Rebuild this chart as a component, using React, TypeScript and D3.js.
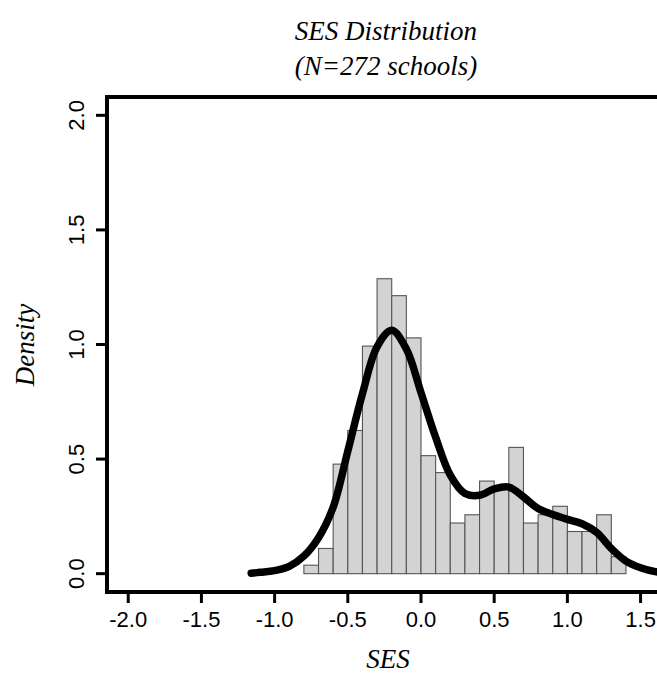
import { useEffect, useRef } from "react";
import * as d3 from "d3";

// histogram: lower edge of each 0.1-wide bin and its density
const binStarts = [
  -0.8, -0.7, -0.6, -0.5, -0.4, -0.3, -0.2, -0.1, 0.0, 0.1, 0.2, 0.3, 0.4, 0.5,
  0.6, 0.7, 0.8, 0.9, 1.0, 1.1, 1.2, 1.3,
];
const binDensity = [
  0.037, 0.11, 0.478, 0.625, 0.993, 1.287, 1.213, 1.029, 0.515, 0.441, 0.221,
  0.257, 0.404, 0.368, 0.551, 0.221, 0.257, 0.294, 0.184, 0.184, 0.257, 0.074,
];
const binWidth = 0.1;

// kernel density curve
const kdeX = [
  -1.16, -1.1, -1.0, -0.9, -0.8, -0.7, -0.6, -0.5, -0.4, -0.3, -0.2, -0.1, 0.0,
  0.1, 0.2, 0.3, 0.4, 0.5, 0.6, 0.7, 0.8, 0.9, 1.0, 1.1, 1.2, 1.3, 1.4, 1.5, 1.6,
  1.7, 1.79,
];
const kdeY = [
  0.002, 0.006, 0.013, 0.032, 0.077, 0.157, 0.29, 0.535, 0.785, 0.99, 1.062,
  0.98, 0.79, 0.595, 0.43, 0.35, 0.342, 0.37, 0.378, 0.335, 0.284, 0.258, 0.237,
  0.218, 0.18, 0.11, 0.055, 0.026, 0.009, 0.003, 0.001,
];

const xTicks = [-2.0, -1.5, -1.0, -0.5, 0.0, 0.5, 1.0, 1.5];
const yTicks = [0.0, 0.5, 1.0, 1.5, 2.0];

const titleLines = ["SES Distribution", "(N=272 schools)"];
const xLabel = "SES";
const yLabel = "Density";

export default function App() {
  const svgRef = useRef<SVGSVGElement>(null);

  useEffect(() => {
    if (!svgRef.current) return;
    const svg = d3.select(svgRef.current);
    svg.selectAll("*").remove();

    const width = 657;
    const height = 677;
    const serif = "'Liberation Serif', 'DejaVu Serif', serif";
    const sans = "'Liberation Sans', Arial, sans-serif";

    svg.attr("width", width).attr("height", height);

    // plot region (R-style 4% padding around the limits)
    const x = d3.scaleLinear().domain([-2.145, 2.145]).range([107, 735]);
    const y = d3.scaleLinear().domain([-0.08, 2.08]).range([592, 97]);

    const g = svg.append("g");

    g.selectAll("rect.bar")
      .data(binStarts.map((s, i) => ({ s, d: binDensity[i] })))
      .join("rect")
      .attr("class", "bar")
      .attr("x", (d) => x(d.s))
      .attr("width", x(binWidth) - x(0))
      .attr("y", (d) => y(d.d))
      .attr("height", (d) => y(0) - y(d.d))
      .attr("fill", "#d3d3d3")
      .attr("stroke", "#555")
      .attr("stroke-width", 1.1);

    const line = d3
      .line<number>()
      .x((d) => x(d))
      .y((_, i) => y(kdeY[i]))
      .curve(d3.curveCatmullRom.alpha(0.5));

    g.append("path")
      .datum(kdeX)
      .attr("d", line)
      .attr("fill", "none")
      .attr("stroke", "#000")
      .attr("stroke-width", 7.5)
      .attr("stroke-linecap", "round")
      .attr("stroke-linejoin", "round");

    // box
    const [x0, x1] = x.range();
    const [y0, y1] = y.range();
    g.append("rect")
      .attr("x", x0)
      .attr("y", y1)
      .attr("width", x1 - x0)
      .attr("height", y0 - y1)
      .attr("fill", "none")
      .attr("stroke", "#000")
      .attr("stroke-width", 4);

    // x axis
    const xa = g.append("g");
    xa.selectAll("line")
      .data(xTicks)
      .join("line")
      .attr("x1", (d) => x(d))
      .attr("x2", (d) => x(d))
      .attr("y1", y0)
      .attr("y2", y0 + 11)
      .attr("stroke", "#000")
      .attr("stroke-width", 3);
    xa.selectAll("text")
      .data(xTicks)
      .join("text")
      .attr("x", (d) => x(d))
      .attr("y", 619)
      .attr("dy", "0.35em")
      .attr("text-anchor", "middle")
      .attr("font-family", sans)
      .attr("font-size", 22)
      .text((d) => d3.format(".1f")(d).replace("−", "-"));

    // y axis
    const ya = g.append("g");
    ya.selectAll("line")
      .data(yTicks)
      .join("line")
      .attr("x1", x0 - 11)
      .attr("x2", x0)
      .attr("y1", (d) => y(d))
      .attr("y2", (d) => y(d))
      .attr("stroke", "#000")
      .attr("stroke-width", 3);
    ya.selectAll("text")
      .data(yTicks)
      .join("text")
      .attr("transform", (d) => `translate(76,${y(d)}) rotate(-90)`)
      .attr("dy", "0.35em")
      .attr("text-anchor", "middle")
      .attr("font-family", sans)
      .attr("font-size", 22)
      .text((d) => d3.format(".1f")(d));

    // titles
    svg
      .selectAll("text.title")
      .data(titleLines)
      .join("text")
      .attr("class", "title")
      .attr("x", 386)
      .attr("y", (_, i) => 40 + i * 35)
      .attr("text-anchor", "middle")
      .attr("font-family", serif)
      .attr("font-style", "italic")
      .attr("font-size", 27)
      .text((d) => d);

    svg
      .append("text")
      .attr("x", 388)
      .attr("y", 668)
      .attr("text-anchor", "middle")
      .attr("font-family", serif)
      .attr("font-style", "italic")
      .attr("font-size", 27)
      .text(xLabel);

    svg
      .append("text")
      .attr("transform", `translate(25,345) rotate(-90)`)
      .attr("dy", "0.35em")
      .attr("text-anchor", "middle")
      .attr("font-family", serif)
      .attr("font-style", "italic")
      .attr("font-size", 27)
      .text(yLabel);
  }, []);

  return (
    <svg
      ref={svgRef}
      style={{ position: "absolute", left: 0, top: 0, background: "#fff" }}
    />
  );
}
